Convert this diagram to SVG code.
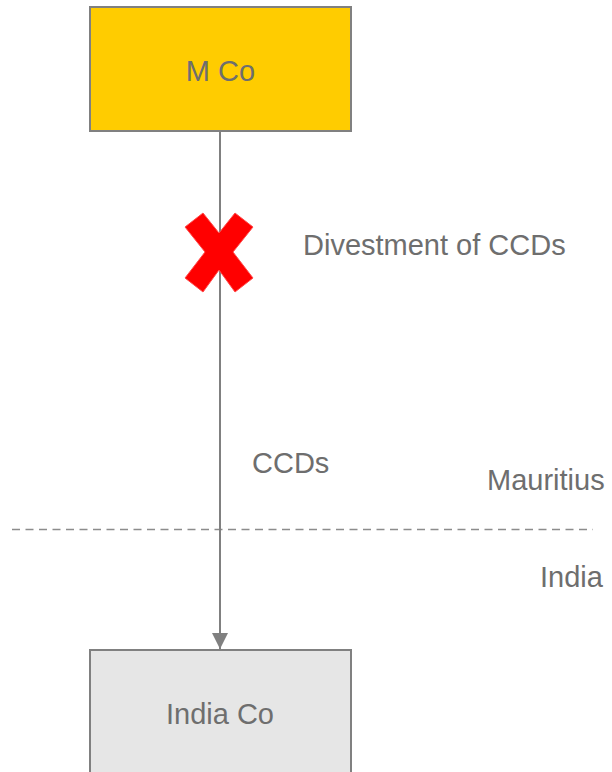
<svg xmlns="http://www.w3.org/2000/svg" width="612" height="772" viewBox="0 0 612 772">
  <style>
    .box { stroke: #808080; stroke-width: 2; }
    .label { font-family: "Liberation Sans", Arial, sans-serif; font-size: 29px; fill: #6e6e6e; }
    .link { stroke: #808080; stroke-width: 2; fill: none; }
    .border { stroke: #8c8c8c; stroke-width: 1.5; stroke-dasharray: 8 5.5; fill: none; }
  </style>
  <defs>
    <marker id="arrow" markerWidth="8" markerHeight="8" refX="8" refY="4" orient="auto" markerUnits="strokeWidth">
      <path d="M0,0 L8,4 L0,8 Z" fill="#808080"/>
    </marker>
  </defs>
  <rect width="612" height="772" fill="#ffffff"/>

  <!-- jurisdiction border -->
  <line class="border" x1="12" y1="529.5" x2="593" y2="529.5"/>
  <text class="label" x="487" y="490">Mauritius</text>
  <text class="label" x="540" y="587">India</text>

  <!-- connectors -->
  <g id="connectors">
    <line class="link" x1="220" y1="131" x2="220" y2="649" marker-end="url(#arrow)"/>
    <text class="label" x="252" y="473">CCDs</text>
    <polygon points="203,213 219,233 235,213 253,227 233,252 253,278 235,292 219,270 203,292 185,278 205,252 185,227" fill="#ff0000" stroke="#ff4d4d" stroke-width="1"/>
    <text class="label" x="303" y="255">Divestment of CCDs</text>
  </g>

  <g id="m-co">
    <rect class="box" x="90" y="7" width="261" height="124" fill="#ffcc00"/>
    <text class="label" x="220.5" y="81" text-anchor="middle">M Co</text>
  </g>

  <g id="india-co">
    <rect class="box" x="90" y="650" width="261" height="130" fill="#e6e6e6"/>
    <text class="label" x="220" y="724" text-anchor="middle">India Co</text>
  </g>
</svg>
